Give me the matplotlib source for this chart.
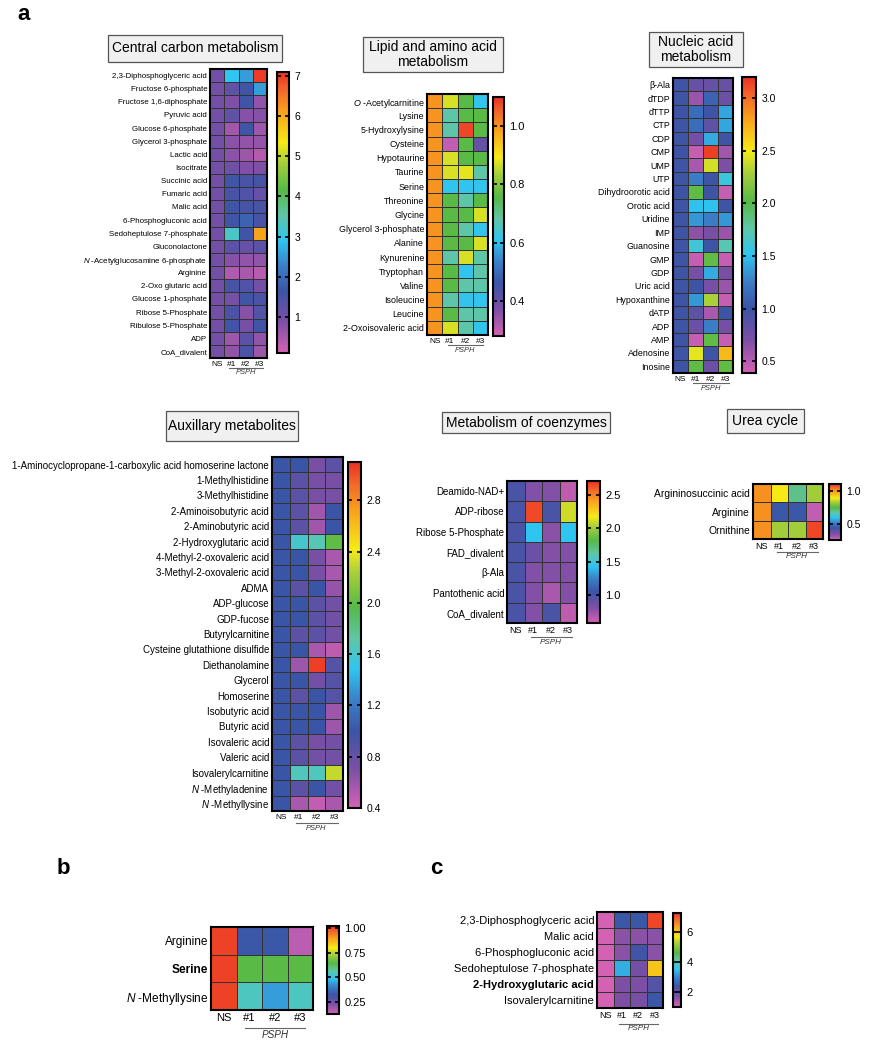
import matplotlib
matplotlib.use("Agg")
import matplotlib.pyplot as plt
import numpy as np
from matplotlib.colors import LinearSegmentedColormap
from matplotlib.patches import Rectangle
from matplotlib.transforms import blended_transform_factory, offset_copy

plt.rcParams["font.family"] = ["Liberation Sans", "DejaVu Sans"]
plt.rcParams["mathtext.fontset"] = "custom"
plt.rcParams["mathtext.it"] = "Liberation Sans:italic"
plt.rcParams["mathtext.rm"] = "Liberation Sans"
plt.rcParams["mathtext.bf"] = "Liberation Sans:bold"

W, H = 871, 1050
GROUPS = ["NS", "#1", "#2", "#3"]

# ---- data (fold change vs NS), columns: NS, #1, #2, #3 ----
CENTRAL_ROWS = [
    "2,3-Diphosphoglyceric acid", "Fructose 6-phosphate", "Fructose 1,6-diphosphate",
    "Pyruvic acid", "Glucose 6-phosphate", "Glycerol 3-phosphate", "Lactic acid",
    "Isocitrate", "Succinic acid", "Fumaric acid", "Malic acid", "6-Phosphogluconic acid",
    "Sedoheptulose 7-phosphate", "Gluconolactone", "$\\mathit{N}$ -Acetylglucosamine 6-phosphate",
    "Arginine", "2-Oxo glutaric acid", "Glucose 1-phosphate", "Ribose 5-Phosphate",
    "Ribulose 5-Phosphate", "ADP", "CoA_divalent",
]
CENTRAL_VALUES = [
    [1.0, 2.9, 2.55, 7.0], [1.0, 1.2, 1.6, 2.55], [1.0, 0.85, 1.6, 0.7],
    [1.0, 1.2, 0.8, 0.8], [1.0, 0.55, 1.6, 0.6], [1.0, 0.75, 0.7, 0.65],
    [1.0, 0.75, 0.6, 0.4], [1.0, 1.05, 0.85, 0.85], [1.0, 1.6, 1.45, 1.5],
    [1.0, 1.5, 1.4, 1.15], [1.0, 1.6, 1.5, 1.5], [1.0, 1.6, 1.85, 1.5],
    [1.0, 3.25, 1.55, 6.1], [1.0, 1.3, 1.15, 1.3], [1.0, 0.8, 0.7, 0.7],
    [1.0, 0.45, 0.5, 0.35], [1.0, 1.5, 1.4, 1.0], [1.0, 0.95, 1.55, 1.45],
    [1.0, 1.45, 0.8, 1.4], [1.0, 1.55, 0.95, 1.55], [1.0, 0.6, 1.25, 0.7],
    [1.0, 0.7, 1.45, 0.6],
]

LIPID_ROWS = [
    "$\\mathit{O}$ -Acetylcarnitine", "Lysine", "5-Hydroxylysine", "Cysteine", "Hypotaurine",
    "Taurine", "Serine", "Threonine", "Glycine", "Glycerol 3-phosphate", "Alanine",
    "Kynurenine", "Tryptophan", "Valine", "Isoleucine", "Leucine", "2-Oxoisovaleric acid",
]
LIPID_VALUES = [
    [1.0, 0.87, 0.76, 0.61], [1.0, 0.68, 0.76, 0.76], [1.0, 0.68, 1.08, 0.76],
    [1.0, 0.3, 0.76, 0.4], [1.0, 0.87, 0.76, 0.76], [1.0, 0.87, 0.88, 0.68],
    [1.0, 0.61, 0.61, 0.61], [1.0, 0.76, 0.68, 0.76], [1.0, 0.76, 0.76, 0.87],
    [1.0, 0.76, 0.68, 0.61], [1.0, 0.76, 0.76, 0.87], [1.0, 0.68, 0.87, 0.68],
    [1.0, 0.76, 0.61, 0.68], [1.0, 0.76, 0.68, 0.68], [1.0, 0.68, 0.61, 0.61],
    [1.0, 0.76, 0.68, 0.68], [1.0, 0.87, 0.68, 0.61],
]

NUCLEIC_ROWS = [
    "β-Ala", "dTDP", "dTTP", "CTP", "CDP", "CMP", "UMP", "UTP", "Dihydroorotic acid",
    "Orotic acid", "Uridine", "IMP", "Guanosine", "GMP", "GDP", "Uric acid",
    "Hypoxanthine", "dATP", "ADP", "AMP", "Adenosine", "Inosine",
]
NUCLEIC_VALUES = [
    [1.0, 0.8, 0.8, 0.8], [1.0, 0.6, 1.1, 0.78], [1.0, 1.15, 1.0, 1.4],
    [1.0, 1.15, 0.85, 1.4], [1.0, 0.75, 1.42, 1.0], [1.0, 0.45, 3.15, 0.58],
    [1.0, 0.55, 2.4, 0.7], [1.0, 1.25, 1.0, 1.58], [1.0, 2.05, 1.0, 0.45],
    [1.0, 1.5, 1.5, 1.0], [1.0, 1.35, 1.25, 1.35], [1.0, 0.65, 0.72, 0.6],
    [1.0, 1.6, 1.0, 1.72], [1.0, 0.45, 2.05, 0.45], [1.0, 0.72, 1.42, 0.72],
    [1.0, 1.0, 0.72, 0.6], [1.0, 1.35, 2.3, 0.45], [1.0, 0.85, 0.55, 1.0],
    [1.0, 0.78, 1.25, 0.75], [1.0, 0.45, 2.05, 0.45], [1.0, 2.45, 1.0, 2.7],
    [1.0, 2.05, 0.78, 2.05],
]

AUX_ROWS = [
    "1-Aminocyclopropane-1-carboxylic acid homoserine lactone", "1-Methylhistidine",
    "3-Methylhistidine", "2-Aminoisobutyric acid", "2-Aminobutyric acid",
    "2-Hydroxyglutaric acid", "4-Methyl-2-oxovaleric acid", "3-Methyl-2-oxovaleric acid",
    "ADMA", "ADP-glucose", "GDP-fucose", "Butyrylcarnitine", "Cysteine glutathione disulfide",
    "Diethanolamine", "Glycerol", "Homoserine", "Isobutyric acid", "Butyric acid",
    "Isovaleric acid", "Valeric acid", "Isovalerylcarnitine", "$\\mathit{N}$ -Methyladenine",
    "$\\mathit{N}$ -Methyllysine",
]
AUX_VALUES = [
    [1.0, 1.0, 0.72, 0.85], [1.0, 0.85, 0.72, 0.72], [1.0, 0.85, 0.72, 0.72],
    [1.0, 0.85, 0.58, 1.0], [1.0, 0.85, 0.58, 1.0], [1.0, 1.6, 1.68, 2.0],
    [1.0, 1.0, 0.72, 0.55], [1.0, 1.0, 0.72, 0.55], [1.0, 0.85, 1.0, 0.62],
    [1.0, 1.0, 0.85, 0.75], [1.0, 1.0, 0.85, 0.75], [1.0, 0.85, 0.85, 0.75],
    [1.0, 1.0, 0.55, 0.48], [1.0, 0.6, 3.05, 0.88], [1.0, 1.0, 0.75, 0.88],
    [1.0, 0.85, 1.0, 0.88], [1.0, 1.0, 1.0, 0.6], [1.0, 1.0, 1.0, 0.6],
    [1.0, 0.85, 0.72, 0.75], [1.0, 0.85, 0.75, 0.75], [1.0, 1.65, 1.65, 2.3],
    [1.0, 0.85, 1.0, 0.75], [1.0, 0.55, 0.47, 0.55],
]

COENZ_ROWS = [
    "Deamido-NAD+", "ADP-ribose", "Ribose 5-Phosphate", "FAD_divalent", "β-Ala",
    "Pantothenic acid", "CoA_divalent",
]
COENZ_VALUES = [
    [1.0, 0.8, 0.8, 0.64], [1.0, 2.65, 1.0, 2.1], [1.0, 1.43, 0.78, 1.43],
    [1.0, 0.88, 0.8, 0.8], [1.0, 0.8, 0.8, 0.8], [1.0, 0.8, 0.7, 0.8],
    [1.0, 0.8, 1.0, 0.64],
]

UREA_ROWS = ["Argininosuccinic acid", "Arginine", "Ornithine"]
UREA_VALUES = [[1.0, 0.89, 0.69, 0.82], [1.0, 0.44, 0.44, 0.27], [1.0, 0.82, 0.82, 1.08]]

B_ROWS = ["Arginine", "Serine", "$\\mathit{N}$ -Methyllysine"]
B_VALUES = [[1.0, 0.33, 0.33, 0.16], [1.0, 0.65, 0.65, 0.65], [1.0, 0.54, 0.44, 0.54]]

C_ROWS = [
    "2,3-Diphosphoglyceric acid", "Malic acid", "6-Phosphogluconic acid",
    "Sedoheptulose 7-phosphate", "2-Hydroxyglutaric acid", "Isovalerylcarnitine",
]
C_VALUES = [
    [1.0, 2.4, 2.4, 7.1], [1.0, 1.6, 1.6, 1.6], [1.0, 1.6, 2.3, 1.6],
    [1.0, 3.3, 1.8, 6.05], [1.0, 1.7, 1.7, 2.1], [1.0, 1.7, 1.75, 2.4],
]

CMAP = LinearSegmentedColormap.from_list("rainbow_prism", [
    (0.00, "#d462b4"), (0.11, "#7c4fa5"), (0.22, "#3b55a6"), (0.31, "#3a7fc8"),
    (0.40, "#2fc5f0"), (0.49, "#5fc6a6"), (0.58, "#56b947"), (0.68, "#a9cf3a"),
    (0.75, "#f6eb16"), (0.86, "#f8a21c"), (0.94, "#f2662a"), (1.00, "#ec3125"),
])


def px_axes(fig, x0, y0, x1, y1):
    return fig.add_axes([x0 / W, 1 - y1 / H, (x1 - x0) / W, (y1 - y0) / H])


def title_box(fig, x0, y0, x1, y1, text, size=10):
    fig.patches.append(Rectangle((x0 / W, 1 - y1 / H), (x1 - x0) / W, (y1 - y0) / H,
                                 transform=fig.transFigure, facecolor="#f0f0f0",
                                 edgecolor="#555555", linewidth=0.9))
    fig.text((x0 + x1) / 2 / W, 1 - (y0 + y1) / 2 / H, text, ha="center", va="center",
             fontsize=size, linespacing=1.15)


def heatmap(fig, rows, values, vmin, vmax, ticks, fmt, box, cbox,
            fs, xfs, cfs, line_dy, bold_row=None):
    ax = px_axes(fig, *box)
    data = np.array(values)
    n = len(rows)
    mesh = ax.pcolormesh(np.arange(5), np.arange(n + 1), data, cmap=CMAP,
                         vmin=vmin, vmax=vmax, edgecolors="#333333", linewidth=0.5)
    ax.set_xlim(0, 4)
    ax.set_ylim(n, 0)
    ax.set_yticks(np.arange(n) + 0.5)
    ax.set_yticklabels(rows, fontsize=fs)
    ax.set_xticks(np.arange(4) + 0.5)
    ax.set_xticklabels(GROUPS, fontsize=xfs)
    ax.tick_params(length=0, pad=2)
    for s in ax.spines.values():
        s.set_linewidth(1.5)
    if bold_row is not None:
        ax.get_yticklabels()[bold_row].set_fontweight("bold")

    base = blended_transform_factory(ax.transData, ax.transAxes)
    line_tr = offset_copy(base, fig=fig, y=-line_dy, units="dots")
    ax.plot([1.35, 3.7], [0, 0], transform=line_tr, clip_on=False,
            color="#666666", linewidth=0.8)
    text_tr = offset_copy(base, fig=fig, y=-line_dy - 1.5, units="dots")
    ax.text(2.5, 0, "PSPH", transform=text_tr, ha="center", va="top",
            fontsize=xfs * 0.9, style="italic", color="#333333")

    cax = px_axes(fig, *cbox)
    cb = fig.colorbar(mesh, cax=cax, ticks=ticks)
    cb.outline.set_linewidth(1.5)
    cax.tick_params(axis="y", direction="in", length=3, width=1.2,
                    left=True, right=True, labelsize=cfs, pad=4)
    cax.set_yticklabels([fmt.format(t) for t in ticks])
    return ax


def main():
    fig = plt.figure(figsize=(W / 100, H / 100), dpi=100)

    fig.text(17 / W, 1 - 14 / H, "a", fontsize=16, fontweight="bold", va="center")
    fig.text(57 / W, 1 - 868 / H, "b", fontsize=16, fontweight="bold", va="center")
    fig.text(430 / W, 1 - 868 / H, "c", fontsize=16, fontweight="bold", va="center")

    title_box(fig, 108, 35, 282, 62, "Central carbon metabolism")
    title_box(fig, 363, 37, 503, 72, "Lipid and amino acid\nmetabolism")
    title_box(fig, 649, 32, 743, 67, "Nucleic acid\nmetabolism")
    title_box(fig, 166, 411, 298, 441, "Auxillary metabolites")
    title_box(fig, 442, 412, 610, 433, "Metabolism of coenzymes")
    title_box(fig, 727, 409, 804, 433, "Urea cycle")

    heatmap(fig, CENTRAL_ROWS, CENTRAL_VALUES, 0.1, 7.1, [1, 2, 3, 4, 5, 6, 7], "{:.0f}",
            (210, 69, 267, 358), (277, 72, 289, 353), 5.7, 6, 7.5, 10)
    heatmap(fig, LIPID_ROWS, LIPID_VALUES, 0.28, 1.1, [0.4, 0.6, 0.8, 1.0], "{:.1f}",
            (427, 94, 488, 335), (493, 97, 504, 336), 6.4, 6, 8, 10)
    heatmap(fig, NUCLEIC_ROWS, NUCLEIC_VALUES, 0.39, 3.2, [0.5, 1.0, 1.5, 2.0, 2.5, 3.0],
            "{:.1f}", (673, 78, 733, 373), (742, 77, 756, 373), 6.4, 6, 7.5, 10)
    heatmap(fig, AUX_ROWS, AUX_VALUES, 0.4, 3.1, [0.4, 0.8, 1.2, 1.6, 2.0, 2.4, 2.8],
            "{:.1f}", (272, 457, 343, 811), (348, 462, 361, 808), 7.0, 6, 7.5, 12)
    heatmap(fig, COENZ_ROWS, COENZ_VALUES, 0.58, 2.71, [1.0, 1.5, 2.0, 2.5], "{:.1f}",
            (507, 481, 577, 623), (587, 481, 600, 623), 7, 6.5, 8, 14)
    heatmap(fig, UREA_ROWS, UREA_VALUES, 0.25, 1.1, [0.5, 1.0], "{:.1f}",
            (753, 484, 823, 539), (829, 484, 841, 540), 7.4, 6.5, 7.5, 13)
    heatmap(fig, B_ROWS, B_VALUES, 0.13, 1.02, [0.25, 0.5, 0.75, 1.0], "{:.2f}",
            (211, 927, 313, 1010), (327, 926, 339, 1014), 8.6, 8, 8, 18, bold_row=1)
    heatmap(fig, C_ROWS, C_VALUES, 1.0, 7.25, [2, 4, 6], "{:.0f}",
            (597, 912, 663, 1008), (673, 913, 681, 1007), 8, 6.5, 8, 16, bold_row=4)

    fig.savefig("out.png", dpi=100)
    plt.close(fig)


if __name__ == "__main__":
    main()
